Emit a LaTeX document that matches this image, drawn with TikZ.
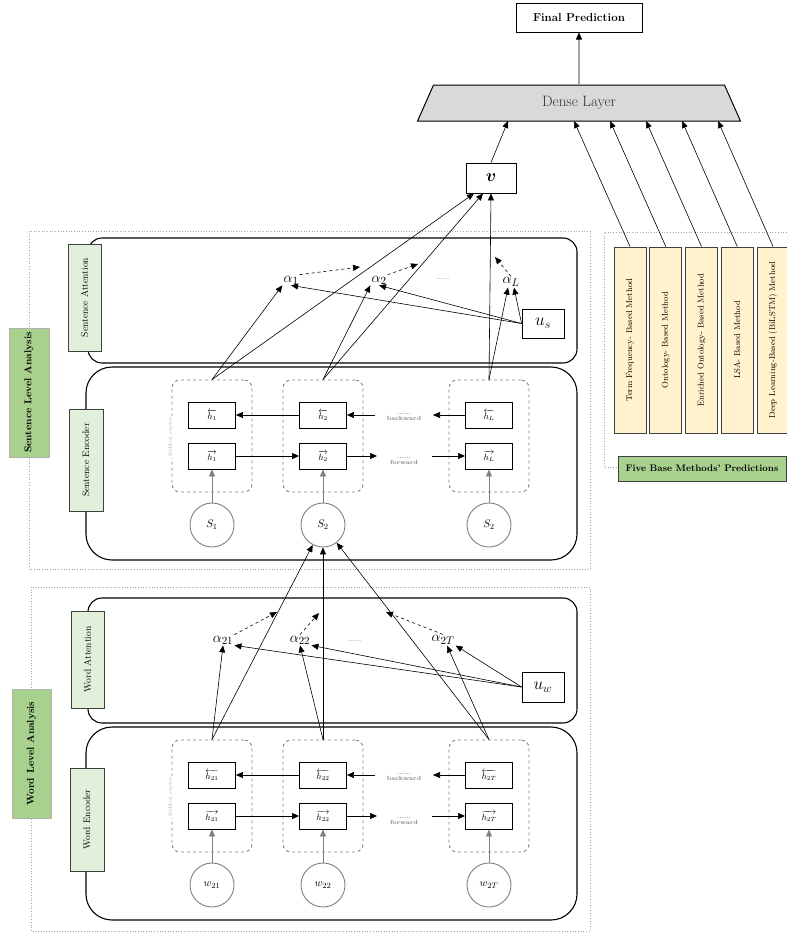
\documentclass[tikz,border=0pt]{standalone}
\usepackage{amsmath}
\usepackage{bm}
\usetikzlibrary{arrows.meta,shapes.geometric}
\definecolor{labelgreen}{HTML}{E2EFDA}
\definecolor{levelgreen}{HTML}{A9D18E}
\definecolor{methodyellow}{HTML}{FFF2CC}
\definecolor{densegray}{HTML}{D9D9D9}
\definecolor{edgegray}{HTML}{404040}
\begin{document}
\begin{tikzpicture}[x=1pt,y=-1pt,>={Triangle[length=7pt,width=6pt]},
    levelarea/.style={draw=gray!70,dotted,line width=0.7pt},
    levellabel/.style={draw=gray!60,fill=levelgreen,line width=1pt,rotate=90,
      font=\bfseries\fontsize{10}{12}\selectfont},
    stagebox/.style={draw,line width=1.1pt,rounded corners=#1},
    stagelabel/.style={draw=edgegray,fill=labelgreen,line width=1pt,rotate=90,
      font=\fontsize{9.5}{11}\selectfont},
    hiddengroup/.style={draw=gray,dashed,line width=0.9pt,rounded corners=8pt,
      minimum width=80,minimum height=112},
    hbox/.style={draw,line width=0.9pt,minimum width=47,minimum height=26,
      font=\fontsize{9}{10}\selectfont},
    inputnode/.style={circle,draw=gray,line width=0.9pt,minimum size=44,
      font=\fontsize{11}{13}\selectfont},
    statelabel/.style={fill=white,text=gray!60,rotate=90,inner sep=1pt,
      font=\fontsize{5.5}{6}\selectfont},
    dirlabel/.style={text=gray,align=center,inner sep=0pt,
      font=\bfseries\fontsize{6}{5.5}\selectfont},
    gapdots/.style={font=\fontsize{6}{7}\selectfont},
    alphanode/.style={inner sep=1pt,font=\fontsize{15}{17}\selectfont},
    ctxbox/.style={draw,line width=0.9pt,font=\fontsize{17}{19}\selectfont},
    methodbox/.style={draw=edgegray,fill=methodyellow,line width=1pt,rotate=90,
      minimum width=186,minimum height=32,font=\fontsize{8.5}{10}\selectfont},
    conn/.style={->,line width=0.6pt},
    hint/.style={->,dashed,line width=0.6pt}]
    \useasboundingbox (0,0) rectangle (787,932);

    % dotted analysis areas
    \draw[levelarea] (29,231) rectangle (590,569);
    \draw[levelarea] (31,587) rectangle (590,931);
    \draw[levelarea] (800,467) -- (604,467) -- (604,232) -- (800,232);
    \node[levellabel,minimum width=129,minimum height=40] (slevel) at (29,392.5) {Sentence Level Analysis};
    \node[levellabel,minimum width=129,minimum height=39] (wlevel) at (31.5,753.5) {Word Level Analysis};

    % stage boxes
    \node[stagebox=14pt,minimum width=489,minimum height=125] (satt) at (332.5,300.5) {};
    \node[stagebox=26pt,minimum width=491,minimum height=193] (senc) at (331.5,463.5) {};
    \node[stagebox=14pt,minimum width=489,minimum height=125] (watt) at (332.5,660.5) {};
    \node[stagebox=26pt,minimum width=491,minimum height=193] (wenc) at (331.5,823.5) {};
    \node[stagelabel,minimum width=107,minimum height=33] (sattl) at (84.5,297.5) {Sentence Attention};
    \node[stagelabel,minimum width=102,minimum height=34] (sencl) at (86,460) {Sentence Encoder};
    \node[stagelabel,minimum width=97,minimum height=33] (wattl) at (87.5,659.5) {Word Attention};
    \node[stagelabel,minimum width=103,minimum height=34] (wencl) at (87,819.5) {Word Encoder};

    % sentence encoder
    \foreach \i/\x/\h/\s in {1/212/1/1,2/323/2/2,3/489/L/2} {
      \node[hiddengroup] (sg\i) at (\x,436) {};
      \node[hbox] (sb\i) at (\x,415) {$\overleftarrow{h_{\h}}$};
      \node[hbox] (sf\i) at (\x,456) {$\overrightarrow{h_{\h}}$};
      \node[inputnode] (sc\i) at (\x,525) {$S_{\s}$};
      \draw[conn,gray] (sc\i) -- (sf\i);
    }
    \node[statelabel] (shid) at (170,437) {hidden states};
    \coordinate (sfa) at (377,456);
    \coordinate (sfb) at (432,456);
    \coordinate (sba) at (433,415);
    \coordinate (sbb) at (375,415);
    \draw[conn] (sf1) -- (sf2);
    \draw[conn] (sf2) -- (sfa);
    \draw[conn] (sfb) -- (sf3);
    \draw[conn] (sb3) -- (sba);
    \draw[conn] (sbb) -- (sb2);
    \draw[conn] (sb2) -- (sb1);
    \node[dirlabel] (sbw) at (404,417) {......\\backward};
    \node[dirlabel] (sfw) at (404,461) {......\\forward};

    % sentence attention
    \node[alphanode] (a1) at (291,280) {$\alpha_1$};
    \node[alphanode] (a2) at (379,280) {$\alpha_2$};
    \node[alphanode] (aL) at (511,282) {$\alpha_L$};
    \node[gapdots] (sdots) at (443,279) {......};
    \node[ctxbox,minimum width=42,minimum height=29] (us) at (543,323.5) {$u_s$};
    \node[ctxbox,minimum width=50,minimum height=30] (v) at (491,178) {$\bm{v}$};
    \coordinate (s12) at (360,267);
    \coordinate (s23) at (418,264);
    \coordinate (sLv) at (495,257);
    \draw[hint] (a1.north east) -- (s12);
    \draw[hint] (a2.north east) -- (s23);
    \draw[hint] (aL.north) -- (sLv);
    \draw[conn] (sg1.north) -- (a1.south west);
    \draw[conn] (sg1.north) -- ([xshift=-17pt]v.south);
    \draw[conn] (sg2.north) -- (a2.south west);
    \draw[conn] (sg2.north) -- ([xshift=-8pt]v.south);
    \draw[conn] (sg3.north) -- (v.south);
    \draw[conn] (sg3.north) -- ([xshift=-3pt]aL.south);
    \draw[conn] (us.west) -- (a1.south);
    \draw[conn] (us.west) -- (a2.south);
    \draw[conn] (us.west) -- ([xshift=3pt]aL.south);

    % word encoder
    \foreach \i/\x/\h in {1/212/21,2/323/22,3/489/2T} {
      \node[hiddengroup] (wg\i) at (\x,796) {};
      \node[hbox] (wb\i) at (\x,775) {$\overleftarrow{h_{\h}}$};
      \node[hbox] (wf\i) at (\x,816) {$\overrightarrow{h_{\h}}$};
      \node[inputnode] (wc\i) at (\x,885) {$w_{\h}$};
      \draw[conn,gray] (wc\i) -- (wf\i);
    }
    \node[statelabel] (whid) at (170,797) {hidden states};
    \coordinate (wfa) at (377,816);
    \coordinate (wfb) at (432,816);
    \coordinate (wba) at (433,775);
    \coordinate (wbb) at (375,775);
    \draw[conn] (wf1) -- (wf2);
    \draw[conn] (wf2) -- (wfa);
    \draw[conn] (wfb) -- (wf3);
    \draw[conn] (wb3) -- (wba);
    \draw[conn] (wbb) -- (wb2);
    \draw[conn] (wb2) -- (wb1);
    \node[dirlabel] (wbw) at (404,777) {......\\backward};
    \node[dirlabel] (wfw) at (404,821) {......\\forward};

    % word attention
    \node[alphanode] (a21) at (223,640) {$\alpha_{21}$};
    \node[alphanode] (a22) at (300,640) {$\alpha_{22}$};
    \node[alphanode] (a2T) at (443,640) {$\alpha_{2T}$};
    \node[gapdots] (wdots) at (355,641) {......};
    \node[ctxbox,minimum width=42,minimum height=30] (uw) at (543,687) {$u_w$};
    \coordinate (w12) at (277,612);
    \coordinate (w23) at (319,613);
    \coordinate (wTp) at (386,612);
    \draw[hint] (a21.north east) -- (w12);
    \draw[hint] (a22.north) -- (w23);
    \draw[hint] (a2T.north) -- (wTp);
    \draw[conn] (wg1.north) -- (a21.south);
    \draw[conn] (wg1.north) -- (sc2);
    \draw[conn] (wg2.north) -- (a22.south);
    \draw[conn] (wg2.north) -- (sc2);
    \draw[conn] (wg3.north) -- ([xshift=4pt]a2T.south);
    \draw[conn] (wg3.north) -- (sc2);
    \draw[conn] (uw.west) -- (a21.south east);
    \draw[conn] (uw.west) -- (a22.south east);
    \draw[conn] (uw.west) -- (a2T.south east);

    % base methods
    \foreach \i/\txt in {1/Term Frequency- Based Method,2/Ontology- Based Method,
        3/Enriched Ontology- Based Method,4/LSA- Based Method,
        5/Deep Learning-Based (BiLSTM) Method}
      \node[methodbox] (m\i) at ({630+35.75*(\i-1)},340) {\txt};
    \node[draw=edgegray,fill=levelgreen,line width=1pt,minimum width=168,minimum height=25,
      font=\bfseries\fontsize{9.5}{11}\selectfont] (fivebase) at (702,468.5) {Five Base Methods' Predictions};

    % prediction head
    \node[draw,line width=1pt,minimum width=126,minimum height=29,
      font=\bfseries\fontsize{11.5}{13}\selectfont] (final) at (579,17.5) {Final Prediction};
    \node[trapezium,trapezium angle=77.5,trapezium stretches=true,draw,fill=densegray,
      line width=1pt,minimum width=326,minimum height=36,text=gray!40!black,
      font=\fontsize{15}{17}\selectfont] (dense) at (579,103) {Dense Layer};
    \draw[conn] (dense.north) -- (final.south);
    \coordinate (din0) at (508,121);
    \draw[conn] (v.north) -- (din0);
    \foreach \i/\x in {1/574,2/610,3/646,4/682,5/718} {
      \coordinate (din\i) at (\x,121);
      \draw[conn] (m\i.east) -- (din\i);
    }
  \end{tikzpicture}
\end{document}
